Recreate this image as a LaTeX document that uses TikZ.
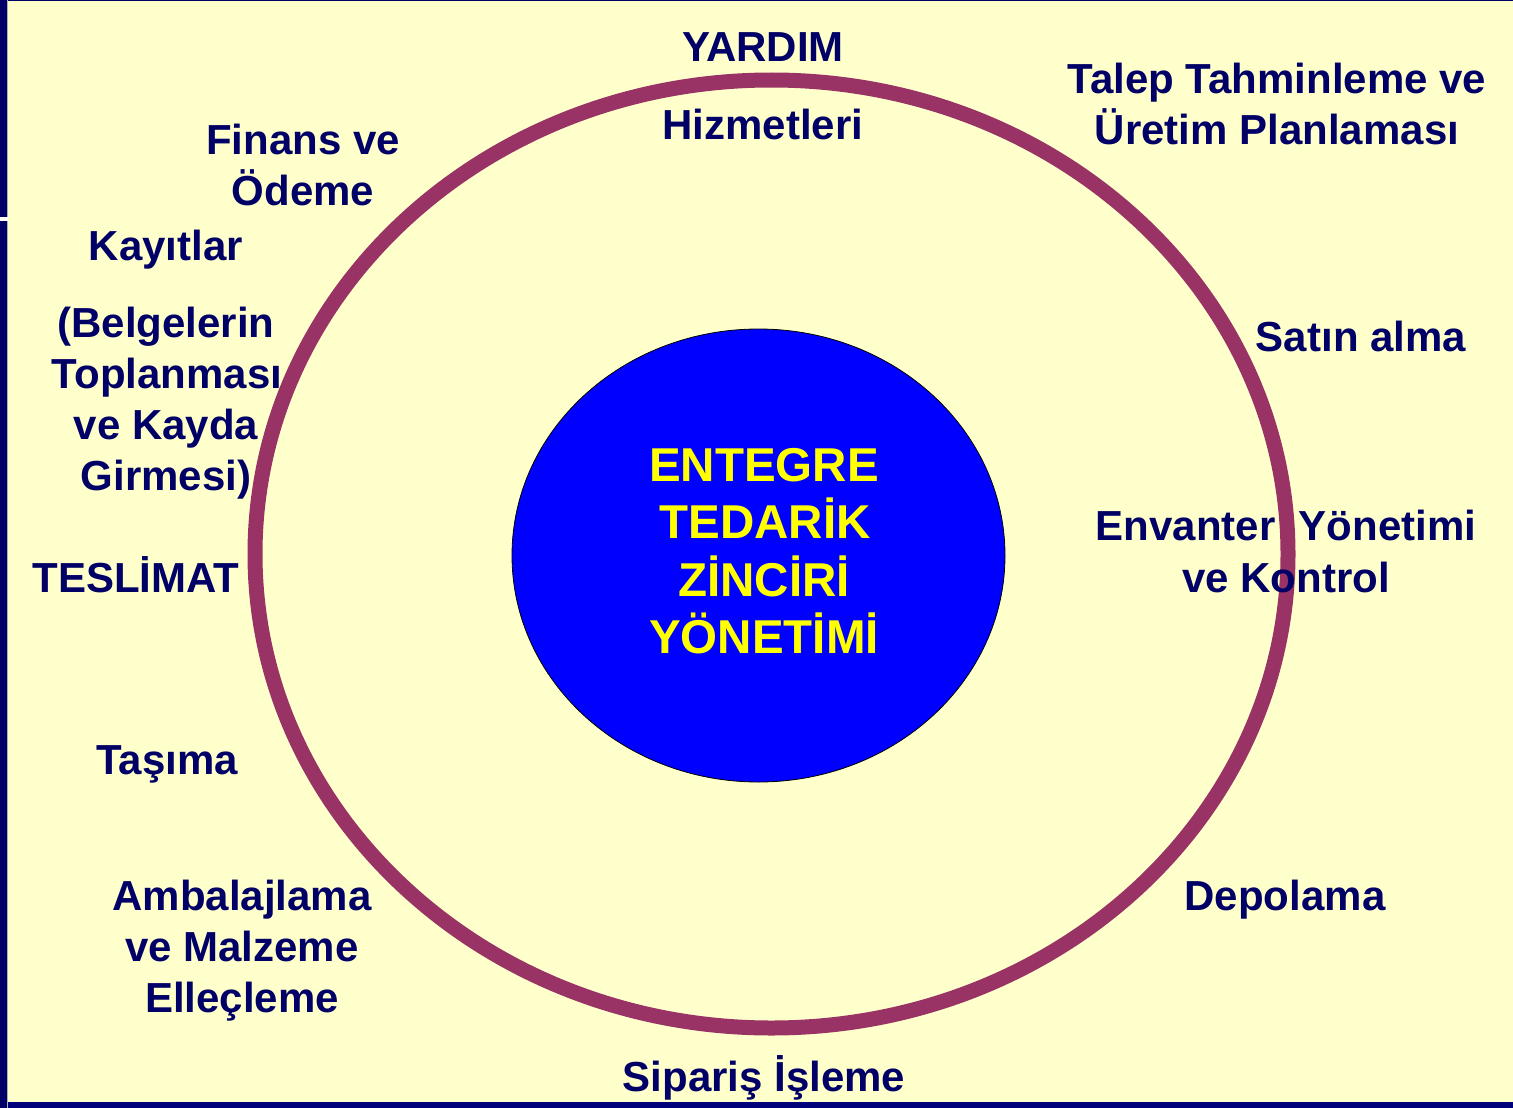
\documentclass[tikz,border=0pt]{standalone}
\usepackage{fontspec}
\setmainfont{Liberation Sans}
\definecolor{paper}{HTML}{FFFFCC}
\definecolor{ink}{HTML}{000066}
\definecolor{barblue}{HTML}{00007A}
\definecolor{ringc}{HTML}{993366}
\definecolor{corec}{HTML}{0000FF}
\definecolor{gold}{HTML}{FFFF00}
\begin{document}
\begin{tikzpicture}[x=1pt,y=-1pt,
  lbl/.style={anchor=base,inner sep=0pt,text=ink,font=\fontsize{42}{51}\selectfont\bfseries},
  coretext/.style={anchor=base,inner sep=0pt,text=gold,font=\fontsize{47.5}{57}\selectfont\bfseries}]
\useasboundingbox (0,0) rectangle (1513,1108);
% slide background and frame bars
\fill[paper] (0,0) rectangle (1513,1108);
\fill[ink] (0,0) rectangle (6.5,1108);
\fill[gray!60] (6.5,0) rectangle (8,1108);
\fill[white] (0,217) rectangle (8,220.5);
\fill[ink] (8,0) rectangle (1513,1.5);
\fill[barblue] (8,1102) rectangle (1513,1108);
% outer ring
\draw[ringc,line width=15pt] (771.5,554) ellipse [x radius=516.5pt,y radius=474pt];
% central disc
\filldraw[fill=corec,draw=black,line width=0.8pt] (758.5,555.5) ellipse [x radius=246.5pt,y radius=226.5pt];
% central title
\node[coretext] (c1) at (764,481) {ENTEGRE};
\node[coretext] (c2) at (765,538) {TEDARİK};
\node[coretext] (c3) at (764,596) {ZİNCİRİ};
\node[coretext] (c4) at (764,653) {YÖNETİMİ};
% activities around the ring
\node[lbl] (yardim) at (763,61.5) {YARDIM};
\node[lbl] (hizmet) at (763,139.5) {Hizmetleri};
\node[lbl] (talep1) at (1277,93.5) {Talep Tahminleme ve};
\node[lbl] (talep2) at (1277,144.5) {Üretim Planlaması};
\node[lbl] (finans1) at (303,154.5) {Finans ve};
\node[lbl] (finans2) at (303,205.5) {Ödeme};
\node[lbl] (kayit) at (166,260) {Kayıtlar};
\node[lbl] (belge1) at (166,337.5) {(Belgelerin};
\node[lbl] (belge2) at (167,388.5) {Toplanması};
\node[lbl] (belge3) at (166,439.5) {ve Kayda};
\node[lbl] (belge4) at (166,490.5) {Girmesi)};
\node[lbl] (teslim) at (136,592.5) {TESLİMAT};
\node[lbl] (satin) at (1361,351.5) {Satın alma};
\node[lbl] (envan1) at (1286,540.5) {Envanter\ \ Yönetimi};
\node[lbl] (envan2) at (1286,592.5) {ve Kontrol};
\node[lbl] (tasima) at (167,774.5) {Taşıma};
\node[lbl] (ambal1) at (242,910.5) {Ambalajlama};
\node[lbl] (ambal2) at (242,961.5) {ve Malzeme};
\node[lbl] (ambal3) at (242,1012.5) {Elleçleme};
\node[lbl] (depo) at (1285,910.5) {Depolama};
\node[lbl] (siparis) at (764,1091.5) {Sipariş İşleme};
\end{tikzpicture}
\end{document}
